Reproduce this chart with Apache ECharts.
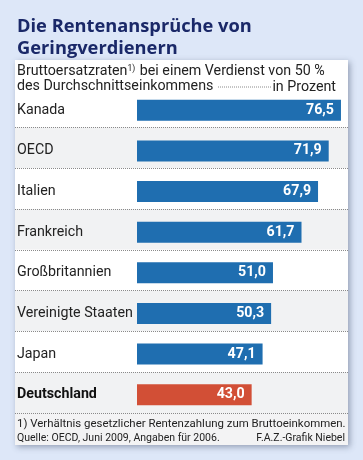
<!DOCTYPE html>
<html><head><meta charset="utf-8">
<script src="https://cdn.jsdelivr.net/npm/echarts@6/dist/echarts.min.js"></script>
<style>html,body{margin:0;padding:0;background:#dde7f8}#c{width:363px;height:460px}</style>
</head><body><div id="c"></div>
<script>
const categories = ['Kanada','OECD','Italien','Frankreich','Großbritannien','Vereinigte Staaten','Japan','Deutschland'];
const values = [76.5, 71.9, 67.9, 61.7, 51.0, 50.3, 47.1, 43.0];
const highlight = 'Deutschland';

const FONT = 'Roboto';
const TFONT = '"Open Sans"';
const cv = document.createElement('canvas').getContext('2d');
function fit(text, target, family, weight) {
  cv.font = (weight || 'normal') + ' 100px ' + family;
  return 100 * target / cv.measureText(text).width;
}
const fsTitle = fit('Die Rentenansprüche von', 235, TFONT, 'bold');
const fsSub = fit('Bruttoersatzraten1) bei einem Verdienst von 50 %', 312, FONT);
const fsLab = fit('Vereinigte Staaten', 116, FONT);
const fsVal = fit('76,5', 28, FONT, 'bold');
const fsFoot = fit('1) Verhältnis gesetzlicher Rentenzahlung zum Bruttoeinkommen.', 329, FONT);
const fsSrc = fit('Quelle: OECD, Juni 2009, Angaben für 2006.', 203, FONT);

const chart = echarts.init(document.getElementById('c'), null, {renderer:'canvas'});

const barData = values.map((v,i)=>({
  value: v,
  itemStyle: {color: categories[i]===highlight ? '#d24f36' : '#1f6eb0'}
}));

chart.setOption({
  backgroundColor: '#dde7f8',
  animation: false,
  title: {
    text: 'Die Rentenansprüche von\nGeringverdienern',
    left: 12, top: 11, padding: 5,
    textStyle: {fontFamily: TFONT, fontWeight: 'bold', fontSize: fsTitle, lineHeight: 22, color: '#1a2868'}
  },
  graphic: [
    {type:'rect', z:-10, shape:{x:15,y:60,width:333,height:385},
     style:{fill:'#ffffff', shadowBlur:6, shadowOffsetX:2, shadowOffsetY:2, shadowColor:'rgba(60,70,100,0.45)'}},
    {type:'rect', z:-9, shape:{x:15,y:413,width:333,height:32}, style:{fill:'#f3f3f4'}},
    {type:'rect', z:50, shape:{x:15,y:61,width:333,height:25.5}, style:{fill:'#ffffff'}},
    {type:'text', z:100, left:17, top:64, style:{
      text:'Bruttoersatzraten{s|1)} bei einem Verdienst von 50 %\ndes Durchschnittseinkommens',
      font:fsSub + 'px ' + FONT, fill:'#222', lineHeight:15,
      rich:{s:{fontSize:fsSub*0.6, verticalAlign:'top', lineHeight:15, padding:[0,1,8,0], fontFamily:FONT, fill:'#222'}}
    }},
    {type:'text', z:100, right:27, top:80, style:{text:'in Prozent', font:fsSub + 'px ' + FONT, fill:'#222'}},
    {type:'line', z:100, shape:{x1:218,y1:87,x2:272,y2:87}, style:{stroke:'#8a8a8a', lineWidth:1, lineDash:[1,1]}},
    {type:'text', left:17, top:419, style:{text:'1) Verhältnis gesetzlicher Rentenzahlung zum Bruttoeinkommen.', font:fsFoot + 'px ' + FONT, fill:'#222'}},
    {type:'text', left:17, top:433, style:{text:'Quelle: OECD, Juni 2009, Angaben für 2006.', font:fsSrc + 'px ' + FONT, fill:'#222'}},
    {type:'text', right:18, top:433, style:{text:'F.A.Z.-Grafik Niebel', font:fsSrc + 'px ' + FONT, fill:'#222'}}
  ],
  grid: [
    {left:137, right:12.7, top:90, height:325},
    {left:15, right:15, top:86.5, height:326.5}
  ],
  xAxis: [
    {gridIndex:0, type:'value', min:0, max:80, show:false},
    {gridIndex:1, type:'value', min:0, max:1, show:false}
  ],
  yAxis: [
    {gridIndex:0, type:'category', data:categories, inverse:true,
     axisLine:{show:false}, axisTick:{show:false}, splitLine:{show:false},
     axisLabel:{margin:120, align:'left', fontFamily:FONT, fontSize:fsLab, color:'#222',
       formatter:(v)=> v===highlight ? '{b|'+v+'}' : v,
       rich:{b:{fontWeight:'bold', fontFamily:FONT, fontSize:fsLab, color:'#111'}}}},
    {gridIndex:1, type:'category', data:categories, inverse:true,
     axisLine:{show:false}, axisTick:{show:false}, axisLabel:{show:false},
     splitLine:{show:true, showMinLine:false, showMaxLine:true, lineStyle:{color:'#8a8a8a', type:[1,1], width:1}},
     splitArea:{show:true, areaStyle:{color:['#ffffff','#f1f2f3']}}}
  ],
  series: [{
    type:'bar', xAxisIndex:0, yAxisIndex:0, data:barData, barWidth:21,
    label:{show:true, position:'insideRight', distance:7, color:'#fff',
      fontFamily:FONT, fontWeight:'bold', fontSize:fsVal,
      formatter:(p)=>p.value.toFixed(1).replace('.',',')}
  }]
});
</script></body></html>
